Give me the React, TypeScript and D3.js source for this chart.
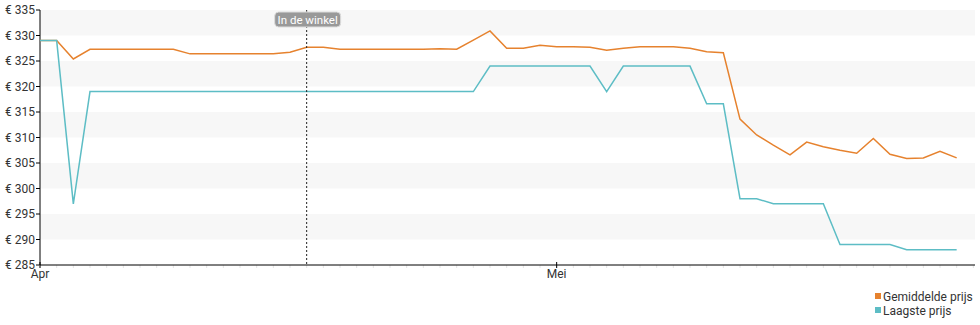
import React from "react";
import * as d3 from "d3";

const W = 980;
const H = 325;

const avgPrice = [
  329, 329, 325.4, 327.3, 327.3, 327.3, 327.3, 327.3, 327.3, 326.4,
  326.4, 326.4, 326.4, 326.4, 326.4, 326.7, 327.7, 327.7, 327.3, 327.3,
  327.3, 327.3, 327.3, 327.3, 327.4, 327.3, 329.1, 330.9, 327.5, 327.5,
  328.1, 327.8, 327.8, 327.7, 327.1, 327.5, 327.8, 327.8, 327.8, 327.5,
  326.8, 326.6, 313.6, 310.5, 308.5, 306.6, 309.1, 308.2, 307.5, 306.9,
  309.8, 306.7, 305.9, 306.0, 307.3, 306.0,
];

const lowPrice = [
  329, 329, 297, 319, 319, 319, 319, 319, 319, 319,
  319, 319, 319, 319, 319, 319, 319, 319, 319, 319,
  319, 319, 319, 319, 319, 319, 319, 324, 324, 324,
  324, 324, 324, 324, 319, 324, 324, 324, 324, 324,
  316.6, 316.6, 298, 298, 297, 297, 297, 297, 289, 289,
  289, 289, 288, 288, 288, 288,
];

const yTicks = [285, 290, 295, 300, 305, 310, 315, 320, 325, 330, 335];
const xLabels = [
  { day: 0, label: "Apr" },
  { day: 31, label: "Mei" },
];
const markerDay = 16;
const markerLabel = "In de winkel";
const seriesNames = ["Gemiddelde prijs", "Laagste prijs"];
const seriesColors = ["#e6822e", "#5dbdc5"];

export default function App() {
  const left = 40;
  const right = 975;
  const top = 10;
  const bottom = 265;
  const x = d3.scaleLinear().domain([0, 56.1]).range([left, right]);
  const y = d3.scaleLinear().domain([285, 335]).range([bottom, top]);
  const line = d3
    .line<number>()
    .x((_, i) => x(i))
    .y((d) => y(d));

  const bands: number[] = [];
  for (let v = 290; v < 335; v += 10) bands.push(v);
  const days = d3.range(0, 57);
  const font = "Roboto, 'Open Sans', sans-serif";

  return (
    <svg
      width={W}
      height={H}
      style={{ position: "absolute", left: 0, top: 0, fontFamily: font }}
    >
      {bands.map((v) => (
        <rect
          key={v}
          x={left}
          y={y(v + 5)}
          width={right - left}
          height={y(v) - y(v + 5)}
          fill="#f7f7f7"
        />
      ))}
      {/* y axis */}
      <line x1={left} x2={left} y1={top} y2={bottom} stroke="#000" strokeWidth={1} />
      {yTicks.map((t) => (
        <g key={t}>
          <line x1={left - 4} x2={left} y1={y(t)} y2={y(t)} stroke="#000" />
          <text
            x={left - 5}
            y={y(t)}
            dy="0.35em"
            textAnchor="end"
            fontSize={12}
            fill="#333"
          >
            {"€ " + t}
          </text>
        </g>
      ))}
      {/* x axis */}
      {days.map((d) =>
        x(d) <= right ? (
          <line
            key={d}
            x1={x(d)}
            x2={x(d)}
            y1={bottom}
            y2={bottom + 3}
            stroke="#e4e4e4"
          />
        ) : null
      )}
      <line x1={left} x2={right} y1={bottom} y2={bottom} stroke="#000" strokeWidth={1} />
      {xLabels.map((l) => (
        <g key={l.label}>
          <line x1={x(l.day)} x2={x(l.day)} y1={bottom - 3} y2={bottom + 3} stroke="#000" />
          <text x={x(l.day)} y={bottom + 13} textAnchor="middle" fontSize={12} fill="#333">
            {l.label}
          </text>
        </g>
      ))}
      {/* series */}
      <path d={line(avgPrice) || ""} fill="none" stroke={seriesColors[0]} strokeWidth={1.5} />
      <path d={line(lowPrice) || ""} fill="none" stroke={seriesColors[1]} strokeWidth={1.5} />
      {/* marker */}
      <line
        x1={x(markerDay)}
        x2={x(markerDay)}
        y1={top}
        y2={bottom}
        stroke="#222"
        strokeWidth={1}
        strokeDasharray="2,2"
      />
      <rect
        x={x(markerDay) - 32}
        y={12}
        width={66}
        height={15}
        rx={4}
        fill="#999"
        stroke="#ddd"
        strokeWidth={1}
      />
      <text
        x={x(markerDay) + 1}
        y={20}
        dy="0.35em"
        textAnchor="middle"
        fontSize={11.5}
        fill="#fff"
      >
        {markerLabel}
      </text>
      {/* legend */}
      {seriesNames.map((n, i) => (
        <g key={n} transform={`translate(875, ${297 + i * 14})`}>
          <rect x={0} y={-4} width={6} height={6} fill={seriesColors[i]} />
          <text x={8} y={0} dy="0.35em" fontSize={12} fill="#333">
            {n}
          </text>
        </g>
      ))}
    </svg>
  );
}
